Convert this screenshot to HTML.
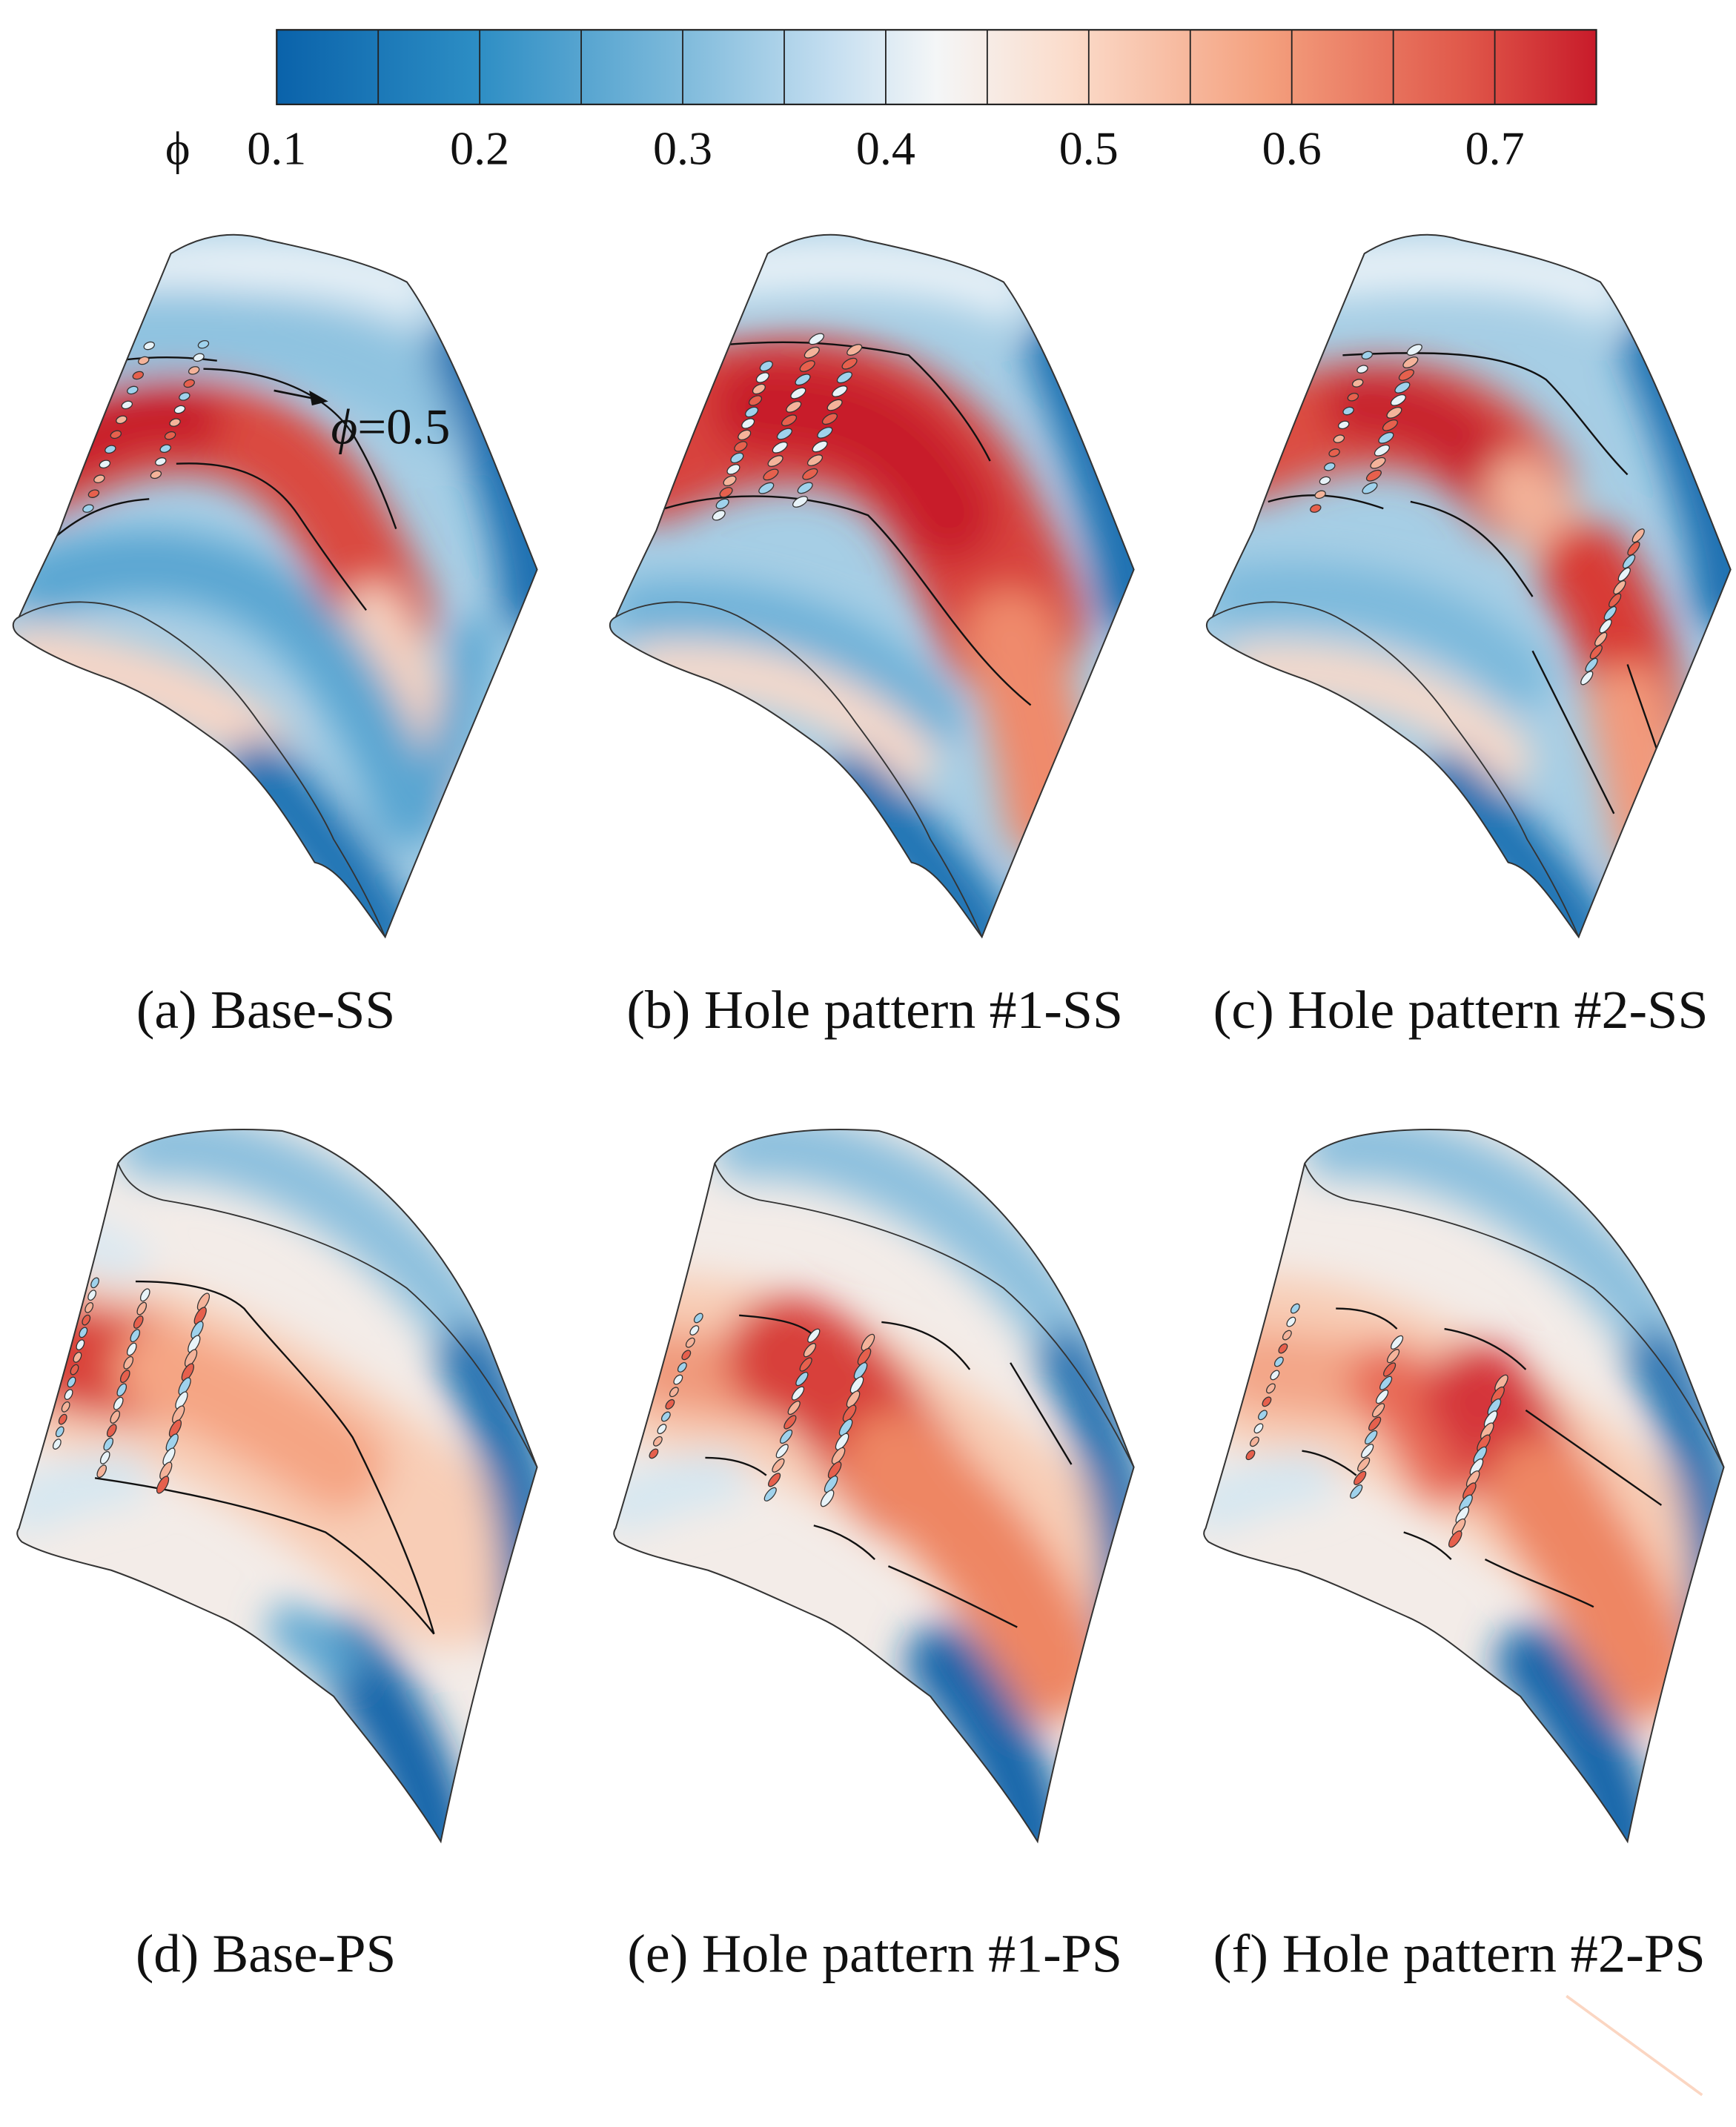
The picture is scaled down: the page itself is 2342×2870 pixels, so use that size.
<!DOCTYPE html>
<html><head><meta charset="utf-8">
<style>
html,body{margin:0;padding:0;background:#fff;}
svg{display:block;}
text{font-family:"Liberation Serif",serif;fill:#111;}
</style></head>
<body>
<svg id="fig" xmlns="http://www.w3.org/2000/svg" width="2342" height="2870" viewBox="0 0 1280 1568.6" preserveAspectRatio="none">
<defs>
<filter id="blur" x="-50%" y="-50%" width="200%" height="200%"><feGaussianBlur stdDeviation="14"/></filter>
<linearGradient id="cbgrad" x1="0" x2="1" y1="0" y2="0">
<stop offset="0" stop-color="#0a62aa"/><stop offset="0.15" stop-color="#2c8dc4"/>
<stop offset="0.3" stop-color="#7ab8da"/><stop offset="0.42" stop-color="#c4def0"/>
<stop offset="0.5" stop-color="#f4f6f7"/><stop offset="0.6" stop-color="#fbdccb"/>
<stop offset="0.75" stop-color="#f4a07e"/><stop offset="0.9" stop-color="#e0584a"/>
<stop offset="1" stop-color="#c81b2a"/></linearGradient>
</defs>
<g id="colorbar"></g>
<g id="panels"></g>
</svg>
<script>
const NS="http://www.w3.org/2000/svg";
const cbTicks=[0.1,0.2,0.3,0.4,0.5,0.6,0.7];
const cbMin=0.1, cbMax=0.75, cbStep=0.05;
const panelLabels=["(a) Base-SS","(b) Hole pattern #1-SS","(c) Hole pattern #2-SS","(d) Base-PS","(e) Hole pattern #1-PS","(f) Hole pattern #2-PS"];
const svg=document.getElementById('fig');
function mk(tag,attrs,parent){const e=document.createElementNS(NS,tag);for(const k in attrs)e.setAttribute(k,attrs[k]);if(parent)parent.appendChild(e);return e;}
const cb=document.getElementById('colorbar');
const cbX0=204,cbX1=1177,cbY=22,cbH=55;
const cx=v=>cbX0+(v-cbMin)/(cbMax-cbMin)*(cbX1-cbX0);
const bar=mk('rect',{x:cbX0,y:cbY,width:cbX1-cbX0,height:cbH,fill:'url(#cbgrad)',stroke:'#222','stroke-width':1.2},cb);


for(let v=cbMin+cbStep;v<cbMax-0.001;v+=cbStep){const l=mk('line',{x1:cx(v),x2:cx(v),y1:cbY,y2:cbY+cbH,stroke:'#222','stroke-width':1},cb);

}
cbTicks.forEach(v=>{const t=mk('text',{x:cx(v),y:121,'text-anchor':'middle','font-size':35},cb);t.textContent=v.toFixed(1);

});
const phi=mk('text',{x:131,y:121,'text-anchor':'middle','font-size':35},cb);phi.textContent='ϕ';



const SS="M126,187 C150,172 175,170 197,177 C240,186 275,195 300,208 C330,250 360,330 396,420 C360,510 320,600 284,691 C265,665 250,640 232,636 C210,600 190,570 164,550 C130,525 110,512 82,501 C50,490 30,480 16,470 C8,465 8,458 14,455 C25,430 35,410 44,391 C70,320 100,250 126,187 Z";
const SSedge="M14,455 C40,440 80,440 109,457 C150,480 175,510 191,533 C215,565 235,595 246,619 C262,645 275,670 284,691";
const PS="M87,858 C100,838 150,830 208,834 C270,850 330,920 360,990 L396,1082 C370,1170 345,1260 325,1358 C295,1310 260,1270 246,1251 C210,1225 190,1205 164,1193 C130,1178 110,1168 82,1158 C50,1150 30,1145 16,1137 C12,1133 12,1130 14,1127 C40,1040 65,950 87,858 Z";
const PSedge="M87,858 C92,870 100,880 120,885 C180,895 250,915 300,950 C340,985 370,1030 396,1082";
const bands=[
 [["M100,200 C180,190 260,195 300,215",40,"#e8f1f7"],["M60,250 C150,230 250,250 330,300",60,"#8fc3e0"],["M345,260 C370,320 396,400 396,440",55,"#1b6fb1"],
  ["M30,345 C110,300 190,300 240,370 C260,400 275,430 285,455",72,"#da4a3f"],["M50,330 C90,310 120,300 140,310",50,"#c81e2c"],
  ["M275,450 C300,490 320,540 335,590",40,"#f6d2c0"],
  ["M30,430 C120,400 190,420 240,480 C270,520 290,560 300,600",50,"#5aa6d2"],["M20,485 C80,490 140,510 190,545",45,"#f8d6c6"],
  ["M190,570 C230,610 260,650 285,690",50,"#1c72b3"],["M350,470 C340,520 330,560 320,600",30,"#5aa6d2"]],
 [["M100,200 C180,190 260,195 300,215",40,"#e8f1f7"],["M345,260 C370,320 396,400 396,440",55,"#1b6fb1"],
  ["M40,330 C140,280 230,300 270,380 C290,420 300,440 305,460",110,"#d8433c"],["M120,300 C190,300 230,320 260,380",70,"#c81b2a"],
  ["M305,470 C320,520 330,560 335,600",70,"#ef8a6c"],
  ["M30,450 C120,440 200,470 250,530",40,"#6db1d8"],["M40,495 C120,490 190,515 230,560",40,"#f7d9ca"],
  ["M190,580 C230,620 260,650 285,690",50,"#1c72b3"]],
 [["M100,200 C180,190 260,195 300,215",40,"#e8f1f7"],["M345,260 C370,320 396,400 396,440",55,"#1b6fb1"],
  ["M40,330 C130,290 200,300 240,360",80,"#dc4e42"],["M120,300 C170,300 200,320 220,350",50,"#c8202e"],
  ["M240,360 C270,400 290,420 300,440",50,"#f3b39a"],["M290,420 C310,450 320,480 330,530",70,"#d83b36"],["M320,520 C330,560 335,600 340,620",60,"#f29a7c"],
  ["M30,440 C120,430 190,450 240,500",45,"#7bb9dc"],["M40,495 C120,490 190,515 230,560",40,"#f7d9ca"],
  ["M190,580 C230,620 260,650 285,690",50,"#1c72b3"]],
 [["M110,845 C200,840 300,900 370,1020",50,"#8cc0de"],["M60,1005 C150,1010 250,1080 330,1150",130,"#f8cdb6"],
  ["M50,1000 L110,1010",80,"#d9423a"],["M120,1010 C170,1030 220,1060 250,1080",70,"#f5a584"],
  ["M345,1000 C375,1060 395,1110 392,1200",45,"#1a6fb0"],["M255,1220 C288,1262 312,1310 322,1358",55,"#1566aa"],["M215,1200 L250,1225",35,"#5aa6d2"],
  ["M20,1110 C50,1100 70,1090 90,1090",40,"#d5e7f1"],["M30,900 C50,910 70,920 90,930",40,"#dbe9f2"]],
 [["M110,845 C200,840 300,900 370,1020",50,"#8cc0de"],["M60,1005 C150,1010 250,1080 330,1150",130,"#f8cdb6"],
  ["M50,1010 L130,1020",60,"#f09a7b"],["M140,1000 C190,1020 200,1060 230,1090",90,"#d8403a"],["M220,1080 C270,1120 310,1170 335,1230",80,"#ee8664"],
  ["M345,1000 C375,1060 395,1110 392,1200",40,"#1a6fb0"],["M255,1225 C288,1265 312,1310 322,1358",55,"#1566aa"],
  ["M20,1110 C50,1100 70,1090 90,1090",40,"#d5e7f1"]],
 [["M110,845 C200,840 300,900 370,1020",50,"#8cc0de"],["M60,1005 C150,1010 250,1080 330,1150",130,"#f8cdb6"],
  ["M50,1010 L140,1020",60,"#f3a688"],["M150,1020 C170,1040 180,1060 190,1080",60,"#e86a56"],["M215,1030 C240,1060 250,1090 270,1110",80,"#d5343a"],["M260,1100 C290,1140 315,1180 335,1230",80,"#ee8664"],
  ["M345,1000 C375,1060 395,1110 392,1200",40,"#1a6fb0"],["M255,1225 C288,1265 312,1310 322,1358",55,"#1566aa"],
  ["M20,1110 C50,1100 70,1090 90,1090",40,"#d5e7f1"]]
];
const contours=[
 ["M55,273 C90,262 130,262 160,266","M150,272 C200,273 240,290 260,320 C275,345 285,370 292,390","M42,395 C60,380 80,370 110,368","M130,342 C170,340 200,350 220,380 C240,410 255,430 270,450"],
 ["M60,258 C120,250 170,250 230,262 C260,290 280,320 290,340","M50,375 C100,360 160,365 200,380 C240,420 270,480 320,520"],
 ["M110,262 C180,258 230,260 260,280 C280,300 300,330 320,350","M55,370 C90,360 120,368 140,375","M160,370 C210,380 230,410 250,440","M320,490 C330,520 345,560 350,580","M250,480 C270,520 290,560 310,600"],
 ["M100,945 C140,945 165,952 180,965 C200,990 240,1030 260,1060 C290,1120 310,1170 320,1205","M70,1090 C140,1100 200,1115 240,1130 C270,1150 300,1180 320,1205"],
 ["M105,970 C130,972 150,975 160,985","M210,975 C240,978 260,990 275,1010","M305,1005 L350,1080","M80,1075 C100,1075 115,1080 125,1088","M160,1125 C180,1130 195,1140 205,1150","M215,1155 C250,1170 280,1185 310,1200"],
 ["M110,965 C130,965 145,970 155,980","M190,980 C220,985 240,1000 250,1010","M250,1040 L350,1110","M85,1070 C100,1072 115,1080 125,1088","M160,1130 C175,1135 185,1140 195,1150","M220,1150 C250,1165 280,1175 300,1185"]
];
const holes=[
 [[150,254,115,350,11,4,2.6,-20],[110,255,65,375,12,4,2.6,-20]],
 [[125,270,90,380,14,5,3,-30],[162,250,125,360,12,6,3,-30],[190,258,150,370,12,6,3,-30]],
 [[128,262,90,375,12,4,2.6,-20],[163,258,130,360,12,6,3,-30],[328,395,290,500,12,6,2.6,-50]],
 [[70,946,42,1065,14,4,2.4,-60],[107,955,75,1085,14,5,2.6,-60],[150,960,120,1095,14,7,3,-60]],
 [[75,972,42,1072,12,4,2.4,-50],[160,985,128,1102,12,6,2.6,-50],[200,990,170,1105,12,7,3,-55]],
 [[80,965,47,1073,12,4,2.4,-50],[155,990,125,1100,12,6,2.6,-50],[232,1020,198,1135,14,7,3,-55]]
];
const offsets=[[0,0],[440,0],[880,0],[0,0],[440,0],[875,0]];
const labelPos=[[196,758,191],[645,758,366],[1077,758,365],[196,1454,192],[645,1454,365],[1076,1454,363]];
const panels=document.getElementById('panels');
const holeColors=["#9fd2ec","#e8f3f8","#f4b39a","#e6604d"];
for(let i=0;i<6;i++){
 const g=mk('g',{transform:`translate(${offsets[i][0]},${offsets[i][1]})`},panels);
 
 
 const shape=i<3?SS:PS;
 mk('clipPath',{id:'cl'+i},g).appendChild(mk('path',{d:shape}));
 const cg=mk('g',{'clip-path':`url(#cl${i})`},g);
 mk('path',{d:shape,fill:i<3?'#a6cee5':'#f3ece8'},cg);
 const bg=mk('g',{filter:'url(#blur)'},cg);
 bands[i].forEach(b=>{const p=mk('path',{d:b[0],fill:'none',stroke:b[2],'stroke-width':b[1],'stroke-linecap':'round'},bg);
  
  });
 contours[i].forEach(d=>{const p=mk('path',{d:d,fill:'none',stroke:'#111','stroke-width':1.3},cg);
  
  });
 holes[i].forEach((r,ri)=>{for(let k=0;k<r[4];k++){const t=k/(r[4]-1);const x=r[0]+(r[2]-r[0])*t,y=r[1]+(r[3]-r[1])*t;
  const e=mk('ellipse',{cx:x,cy:y,rx:r[5],ry:r[6],transform:`rotate(${r[7]} ${x} ${y})`,fill:holeColors[(k+ri)%4],stroke:'#333','stroke-width':0.7},cg);
  
  }});
 const ol=mk('path',{d:shape,fill:'none',stroke:'#333','stroke-width':1.1},g);
 
 
 const ed=mk('path',{d:i<3?SSedge:PSedge,fill:'none',stroke:'#333','stroke-width':1},g);
 
 
 const lb=mk('text',{x:labelPos[i][0]-offsets[i][0],y:labelPos[i][1],'text-anchor':'middle','font-size':40,textLength:labelPos[i][2],lengthAdjust:'spacingAndGlyphs'},g);
 lb.textContent=panelLabels[i];
 
 
}
const ann=mk('g',{},panels);


mk('path',{d:'M202,288 L232,294',stroke:'#111','stroke-width':1.5,fill:'none'},ann);
mk('path',{d:'M242,296 L228,288 L230,299 Z',fill:'#111'},ann);
const at=mk('text',{x:244,y:327,'font-size':37,textLength:88,lengthAdjust:'spacingAndGlyphs'},ann);
at.innerHTML='<tspan font-style="italic">ϕ</tspan>=0.5';
const fl=mk('path',{d:'M1155,1472 L1255,1545',stroke:'#fbd6c2','stroke-width':2,fill:'none'},panels);


</script>
</body></html>
